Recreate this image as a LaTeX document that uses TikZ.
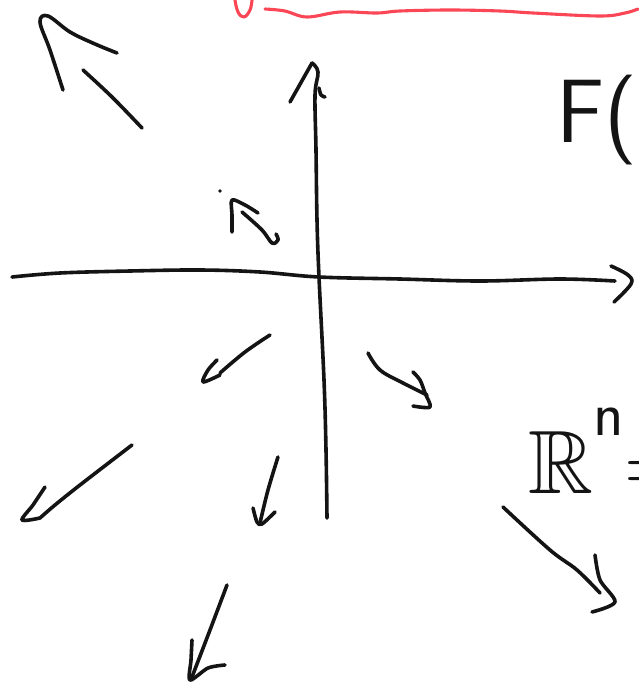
\RequirePackage{fix-cm}
\documentclass[tikz,border=0pt]{standalone}
\usepackage{amssymb}
\definecolor{penred}{RGB}{250,70,85}
\begin{document}
\begin{tikzpicture}[x=1pt, y=-1pt, line cap=round, line join=round,
    ink/.style={line width=3.6pt, black!92},
    redink/.style={line width=3.1pt, penred},
    hand/.style={inner sep=0pt, anchor=base west, black!92, font=\fontsize{90}{90}\selectfont}]
  \useasboundingbox (0,0) rectangle (638,688);

  % red underline at the top
  \draw[redink] plot[smooth, tension=0.7] coordinates {(235,0) (238,12) (244,17) (250,10) (252,0)};
  \draw[redink] plot[smooth, tension=0.6] coordinates {(265,9) (285,11) (307,17) (340,12) (377,13) (400,11) (450,10) (500,11) (533,13) (600,16) (625,13) (638,9)};

  % axes
  \coordinate (O) at (319,277);
  \draw[ink] plot[smooth, tension=0.6] coordinates {(12,277) (60,273) (130,271) (200,270) (260,272) (319,277) (400,279) (480,281) (560,279) (615,281)};
  \draw[ink] plot[smooth, tension=0.6] coordinates {(611,266) (628,275) (631,284) (614,302)};
  \draw[ink] plot[smooth, tension=0.6] coordinates {(327,518) (326,450) (324,380) (319,277) (317,220) (316,150) (315,95) (318,72) (312,63)};
  \draw[ink] (290,102) -- (312,63);
  \draw[ink] plot[smooth, tension=0.6] coordinates {(319,88) (321,95) (325,97)};

  % vector field arrows
  \draw[ink] plot[smooth, tension=0.6] coordinates {(63,90) (50,50) (40,22) (48,16) (70,32) (95,44) (117,53)};
  \draw[ink] plot[smooth, tension=0.6] coordinates {(83,70) (112,97) (142,128)};

  \fill[black!92] (220,191) circle (1.8pt);
  \draw[ink] plot[smooth, tension=0.5] coordinates {(232,232) (232,215) (232,200) (245,205) (258,213)};
  \draw[ink] plot[smooth, tension=0.6] coordinates {(242,212) (262,230) (272,243) (278,240) (276,234)};

  \draw[ink] plot[smooth, tension=0.6] coordinates {(270,335) (245,352) (220,373)};
  \draw[ink] plot[smooth, tension=0.5] coordinates {(217,360) (208,370) (203,382) (220,375)};

  \draw[ink] plot[smooth, tension=0.6] coordinates {(368,353) (380,370) (403,383) (427,395)};
  \draw[ink] plot[smooth, tension=0.5] coordinates {(413,372) (420,380) (425,393) (430,407) (413,406)};

  \draw[ink] plot[smooth, tension=0.6] coordinates {(132,445) (80,485) (55,505) (40,518)};
  \draw[ink] plot[smooth, tension=0.5] coordinates {(45,487) (33,505) (22,520) (40,518)};

  \draw[ink] plot[smooth, tension=0.6] coordinates {(278,457) (268,490) (260,523)};
  \draw[ink] plot[smooth, tension=0.5] coordinates {(253,508) (257,522) (262,524) (275,512)};

  \draw[ink] plot[smooth, tension=0.6] coordinates {(227,585) (210,630) (192,677)};
  \draw[ink] plot[smooth, tension=0.5] coordinates {(192,640) (191,660) (190,680) (208,668) (225,665)};

  \draw[ink] plot[smooth, tension=0.6] coordinates {(503,507) (550,550) (577,570) (600,593)};
  \draw[ink] plot[smooth, tension=0.5] coordinates {(595,555) (600,580) (615,602) (592,612)};

  % handwritten text on the right
  \node[hand] (Fx) at (556,142) {\sffamily F(};
  \node[hand] (Rn) at (528,493) {$\mathbb{R}^{\raisebox{0.28em}{$\scriptstyle\mathsf{n}$}}{=}$};
\end{tikzpicture}
\end{document}
